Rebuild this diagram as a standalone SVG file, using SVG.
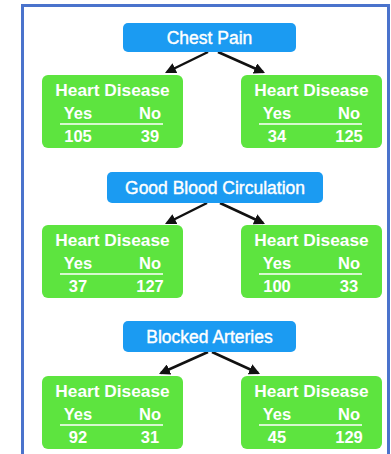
<svg xmlns="http://www.w3.org/2000/svg" width="391" height="454" viewBox="0 0 391 454">
  <style>
    text { font-family: "Liberation Sans", Arial, sans-serif; fill: #ffffff; text-anchor: middle; }
    .q { fill: #1b9bf2; }
    .leaf { fill: #5de43f; }
    .qt { font-size: 17.5px; stroke: #ffffff; stroke-width: 0.4; }
    .hd { font-size: 17.3px; font-weight: bold; }
    .yn { font-size: 16.5px; font-weight: bold; }
    .num { font-size: 16.5px; font-weight: bold; }
    .rule { stroke: #ffffff; stroke-width: 1.5; }
    .edge { stroke: #111111; stroke-width: 2.5; fill: none; marker-end: url(#arrow); }
  </style>
  <defs>
    <marker id="arrow" viewBox="0 0 10 10" refX="8" refY="5" markerWidth="4.4" markerHeight="4.4" orient="auto" markerUnits="strokeWidth">
      <path d="M0,0 L10,5 L0,10 Z" fill="#111111"/>
    </marker>
    <!-- leaf box: title, Yes/No header, rule, counts -->
    <symbol id="leafBase" overflow="visible">
      <rect class="leaf" x="0" y="0" width="141" height="73" rx="6"/>
      <text class="hd" x="70.5" y="21">Heart Disease</text>
      <text class="yn" x="36" y="44">Yes</text>
      <text class="yn" x="108" y="44">No</text>
      <line class="rule" x1="18" y1="49" x2="121" y2="49"/>
    </symbol>
  </defs>

  <rect x="22.5" y="5.5" width="366" height="460" fill="#ffffff" stroke="#4a73cc" stroke-width="3"/>

  <g id="connectors">
    <line class="edge" x1="208" y1="52" x2="167" y2="72"/>
    <line class="edge" x1="218" y1="52" x2="263" y2="72"/>
    <line class="edge" x1="207" y1="203" x2="167" y2="223"/>
    <line class="edge" x1="220" y1="203" x2="263" y2="223"/>
    <line class="edge" x1="208" y1="352" x2="161" y2="373"/>
    <line class="edge" x1="212" y1="352" x2="258" y2="373"/>
  </g>

  <g id="chest-pain">
    <rect class="q" x="123" y="23" width="173" height="29" rx="5"/>
    <text class="qt" x="209.5" y="43.5">Chest Pain</text>
  </g>
  <g id="chest-pain-yes" transform="translate(42,75)">
    <use href="#leafBase"/>
    <text class="num" x="36" y="67">105</text>
    <text class="num" x="108" y="67">39</text>
  </g>
  <g id="chest-pain-no" transform="translate(241,75)">
    <use href="#leafBase"/>
    <text class="num" x="36" y="67">34</text>
    <text class="num" x="108" y="67">125</text>
  </g>

  <g id="good-blood-circulation">
    <rect class="q" x="107" y="172" width="216" height="31" rx="5"/>
    <text class="qt" x="215" y="193.5">Good Blood Circulation</text>
  </g>
  <g id="circulation-yes" transform="translate(42,225)">
    <use href="#leafBase"/>
    <text class="num" x="36" y="67">37</text>
    <text class="num" x="108" y="67">127</text>
  </g>
  <g id="circulation-no" transform="translate(241,225)">
    <use href="#leafBase"/>
    <text class="num" x="36" y="67">100</text>
    <text class="num" x="108" y="67">33</text>
  </g>

  <g id="blocked-arteries">
    <rect class="q" x="123" y="321" width="173" height="31" rx="5"/>
    <text class="qt" x="209.5" y="343">Blocked Arteries</text>
  </g>
  <g id="arteries-yes" transform="translate(42,376)">
    <use href="#leafBase"/>
    <text class="num" x="36" y="67">92</text>
    <text class="num" x="108" y="67">31</text>
  </g>
  <g id="arteries-no" transform="translate(241,376)">
    <use href="#leafBase"/>
    <text class="num" x="36" y="67">45</text>
    <text class="num" x="108" y="67">129</text>
  </g>
</svg>
